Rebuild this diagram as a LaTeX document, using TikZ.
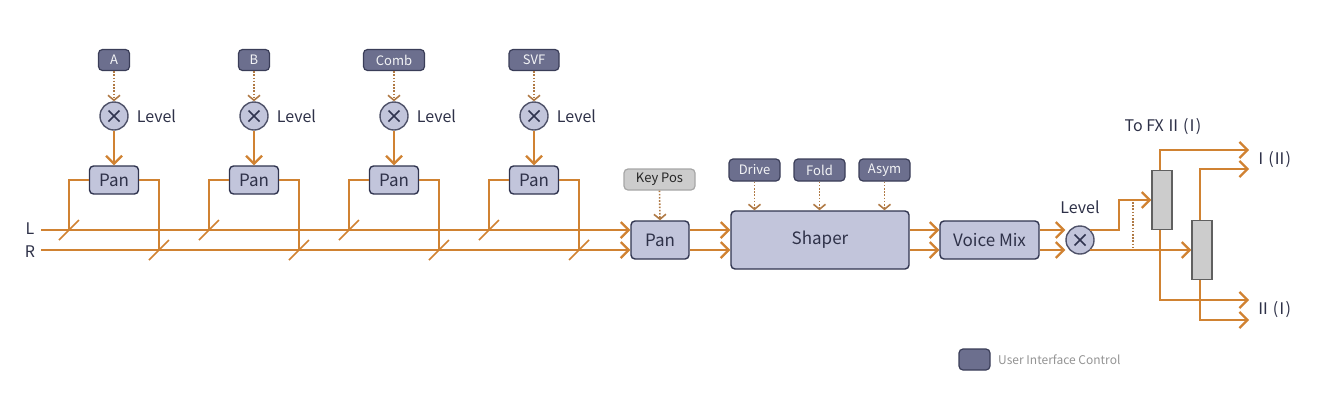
\documentclass[tikz,border=0pt]{standalone}
\usepackage{fontspec}
\setmainfont{Noto Sans CJK JP}
\usetikzlibrary{arrows.meta,calc}
\definecolor{sigc}{HTML}{D08232}
\definecolor{lav}{HTML}{C2C5DB}
\definecolor{navy}{HTML}{30344F}
\definecolor{uifill}{HTML}{6C6F8E}
\definecolor{uidraw}{HTML}{3A3D58}
\definecolor{dotc}{HTML}{B07A45}
\definecolor{txt}{HTML}{2E3148}
\newcommand{\rnI}{\makebox[7.5pt]{Ⅰ}}
\newcommand{\rnII}{\makebox[12pt]{Ⅱ}}
\begin{document}
\begin{tikzpicture}[x=1pt,y=-1pt,
  sig/.style={draw=sigc,line width=2pt},
  sigarrow/.style={sig,-{Straight Barb[length=8pt,width=16pt,line width=2.2pt]}},
  dotarrow/.style={draw=dotc,line width=1.6pt,dash pattern=on 1.6pt off 1.6pt,-{Straight Barb[length=5pt,width=12pt,line width=1.6pt]}},
  dotline/.style={draw=dotc,line width=1.6pt,dash pattern=on 1.6pt off 1.6pt},
  slashmark/.style={draw=sigc,line width=1.5pt},
  procbox/.style={draw=navy,fill=lav,rounded corners=4pt,line width=1.4pt,inner sep=0pt,text=txt,font=\fontsize{17}{20}\selectfont},
  uibox/.style={draw=uidraw,fill=uifill,rounded corners=4pt,line width=1.2pt,inner sep=0pt,minimum height=21pt,text={white!92!uifill},font=\fontsize{13}{15}\selectfont},
  keybox/.style={draw=gray!70,fill=gray!40,rounded corners=4pt,line width=1.2pt,inner sep=0pt,minimum height=21pt,text=gray!30!black,font=\fontsize{13}{15}\selectfont},
  multnode/.style={circle,draw=navy!85,fill=lav,line width=1.4pt,minimum size=28pt,inner sep=0pt,
    path picture={\draw[navy,line width=1.6pt] ($(path picture bounding box.center)+(-5.5,-5.5)$) -- ($(path picture bounding box.center)+(5.5,5.5)$)
      ($(path picture bounding box.center)+(-5.5,5.5)$) -- ($(path picture bounding box.center)+(5.5,-5.5)$);}},
  lbl/.style={text=txt,font=\fontsize{16}{19}\selectfont,inner sep=0pt},
  graybox/.style={draw=gray!75!black,fill=gray!40,line width=1.4pt,minimum width=20pt,minimum height=59pt,inner sep=0pt}
]
\useasboundingbox (0,0) rectangle (1330,400);

% input lines
\coordinate (Ls) at (41,230);
\coordinate (Rs) at (41,250);
\node[lbl] (Llab) at (30,229) {L};
\node[lbl] (Rlab) at (30,252) {R};

% main chain nodes
\node[procbox,minimum width=58pt,minimum height=38pt] (mpan) at (660,240) {Pan};
\node[keybox,minimum width=71pt] (keypos) at (659.5,179.5) {Key Pos};
\node[procbox,minimum width=178pt,minimum height=58pt] (shaper) at (820,240) {Shaper};
\node[uibox,minimum width=51pt,minimum height=22pt] (drive) at (754.5,170) {Drive};
\node[uibox,minimum width=51pt,minimum height=22pt] (fold) at (819.5,170) {Fold};
\node[uibox,minimum width=51pt,minimum height=22pt] (asym) at (884.5,170) {Asym};
\node[procbox,minimum width=99pt,minimum height=38pt] (vmix) at (989.5,240) {Voice Mix};
\node[multnode] (mout) at (1080,240) {};
\node[lbl] (lvlout) at (1080,207) {Level};
\node[graybox] (gr1) at (1162,200) {};
\node[graybox] (gr2) at (1202,250) {};

\draw[sigarrow] (Ls) -- (Ls -| mpan.west);
\draw[sigarrow] (Rs) -- (Rs -| mpan.west);

% columns
\foreach \cx/\w/\t [count=\i] in {114/31/A,254/31/B,394/61/Comb,534/50/SVF}{
  \node[uibox,minimum width=\w pt] (u\i) at (\cx,60) {\t};
  \node[multnode] (m\i) at (\cx,116) {};
  \node[lbl,anchor=west] (lv\i) at ($(m\i.east)+(8,0)$) {Level};
  \node[procbox,minimum width=49pt,minimum height=28pt] (p\i) at (\cx,180) {Pan};
  \coordinate (jl\i) at (\cx-45,230);
  \coordinate (jr\i) at (\cx+45,250);
  \draw[dotarrow] (u\i.south) -- (m\i.north);
  \draw[sigarrow] (m\i.south) -- (p\i.north);
  \draw[sig] (p\i.west) -| (jl\i);
  \draw[sig] (p\i.east) -| (jr\i);
  \draw[slashmark] ($(jl\i)+(-10,10)$) -- ($(jl\i)+(10,-10)$);
  \draw[slashmark] ($(jr\i)+(-10,10)$) -- ($(jr\i)+(10,-10)$);
}

\draw[dotarrow] (keypos.south) -- (mpan.north);
\draw[dotarrow] (drive.south) -- (drive.south |- shaper.north);
\draw[dotarrow] (fold.south) -- (fold.south |- shaper.north);
\draw[dotarrow] (asym.south) -- (asym.south |- shaper.north);

\draw[sigarrow] (Ls -| mpan.east) -- (Ls -| shaper.west);
\draw[sigarrow] (Rs -| mpan.east) -- (Rs -| shaper.west);
\draw[sigarrow] (Ls -| shaper.east) -- (Ls -| vmix.west);
\draw[sigarrow] (Rs -| shaper.east) -- (Rs -| vmix.west);
\draw[sigarrow] (Ls -| vmix.east) -- (Ls -| mout.west);
\draw[sigarrow] (Rs -| vmix.east) -- (Rs -| mout.west);

% outputs
\coordinate (bend) at (1119,230);
\draw[sigarrow] ($(mout.center)+(10,-10)$) -- (bend) |- (gr1.west);
\draw[sigarrow] ($(mout.center)+(10,10)$) -- (gr2.west);
\coordinate (d1) at (1133,202);
\coordinate (d2) at (1133,249);
\draw[dotline] (d1) -- (d2);

\coordinate (o1) at (1249,150);
\coordinate (o2) at (1249,300);
\coordinate (o3) at (1249,169);
\coordinate (o4) at (1249,320);
\draw[sigarrow] ([xshift=-2pt]gr1.north) |- (o1);
\draw[sigarrow] ([xshift=-2pt]gr1.south) |- (o2);
\draw[sigarrow] ([xshift=-2pt]gr2.north) |- (o3);
\draw[sigarrow] ([xshift=-2pt]gr2.south) |- (o4);
\node[graybox] at (gr1) {};
\node[graybox] at (gr2) {};

\node[lbl,anchor=west] (out1lab) at (1257,160) {\rnI\ (\rnII)};
\node[lbl,anchor=west] (out2lab) at (1257,310) {\rnII\ (\rnI)};
\node[lbl] (tofx) at (1163,127) {To FX \rnII\ (\rnI)};

% legend
\node[uibox,minimum width=31pt] (leg) at (974.5,359.5) {};
\node[anchor=west,inner sep=0pt,text=gray!85,font=\fontsize{12}{14}\selectfont] (legt) at (998,360) {User Interface Control};
\end{tikzpicture}
\end{document}
